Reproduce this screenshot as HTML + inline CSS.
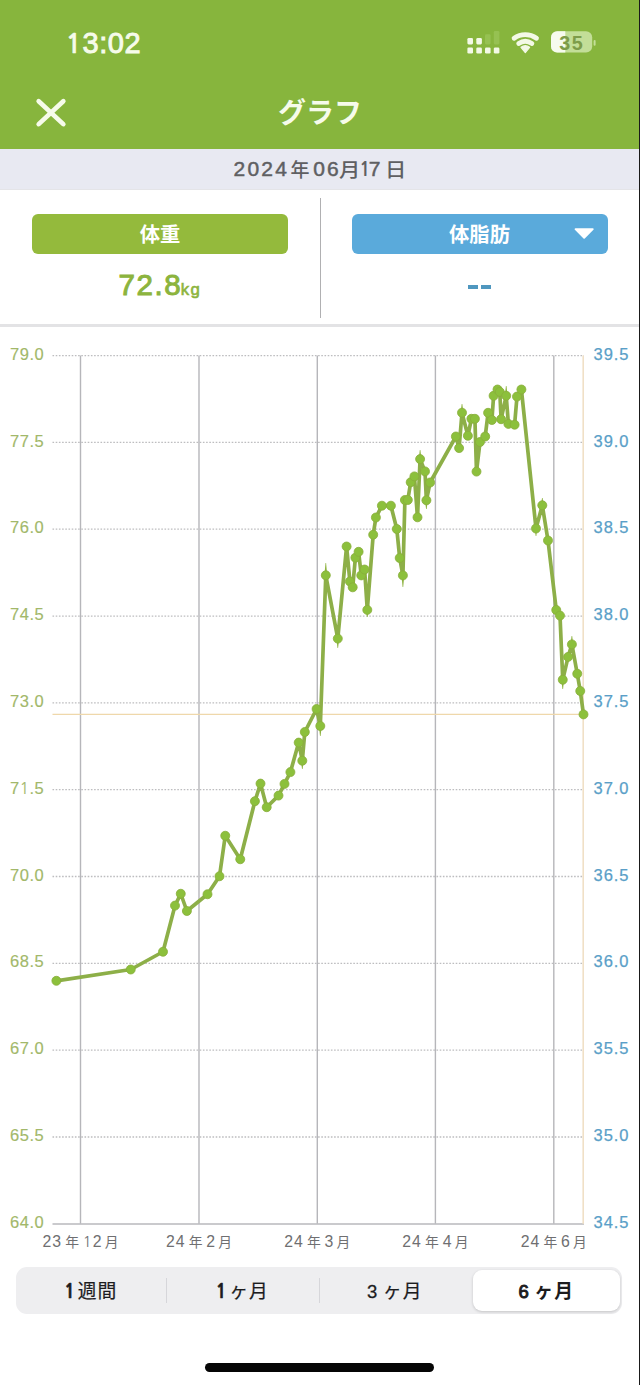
<!DOCTYPE html>
<html><head><meta charset="utf-8">
<style>
* { margin:0; padding:0; box-sizing:border-box; }
html,body { width:640px; height:1385px; overflow:hidden; background:#fff; }
body { position:relative; font-family:"Liberation Sans","Noto Sans CJK JP",sans-serif; }
.abs { position:absolute; }
#hdr { position:absolute; left:0; top:0; width:640px; height:149px; background:#87b53d; }
#time { position:absolute; left:65.6px; top:25.5px; font-size:29px; font-weight:normal; color:#f6fbea; -webkit-text-stroke:0.9px #f6fbea; letter-spacing:0.6px; line-height:34px; }
#title { position:absolute; left:0; width:640px; top:91px; text-align:center; font-size:28px; font-weight:bold; color:#f6fbea; font-family:"Noto Sans CJK JP",sans-serif; line-height:40px; }
#dateband { position:absolute; left:0; top:149px; width:640px; height:41px; background:#e8e9f2; border-bottom:1px solid #e4e4e8; }
.dt { position:absolute; top:155px; font-size:21px; line-height:28px; color:#5f5f62; -webkit-text-stroke:0.5px #5f5f62; letter-spacing:2.2px; white-space:nowrap; }
.dc { position:absolute; top:155px; font-size:19px; line-height:28px; color:#5f5f62; font-family:"Noto Sans CJK JP",sans-serif; font-weight:500; white-space:nowrap; }
.btn { position:absolute; top:214px; height:40px; width:256px; border-radius:6px; color:#fff; text-align:center; font-weight:bold; font-size:20.3px; line-height:38.6px; font-family:"Noto Sans CJK JP",sans-serif; }
#bw { left:32px; background:#94ba3c; }
#bf { left:351.5px; width:256px; background:#5aaadb; }
#divider { position:absolute; left:319.5px; top:198px; width:1.3px; height:120px; background:#b0b0b2; }
#panelline { position:absolute; left:0; top:324.4px; width:640px; height:2.2px; background:#e3e3e5; }
#val { position:absolute; left:118.5px; top:267px; font-size:29.5px; line-height:36px; color:#8cb43e; -webkit-text-stroke:1px #8cb43e; letter-spacing:1.6px; white-space:nowrap; }
#val span { font-size:16.8px; letter-spacing:1.4px; margin-left:-1.6px; -webkit-text-stroke:0.6px #8cb43e; }
.dash { position:absolute; top:285px; width:9.6px; height:3.7px; background:#4f97bf; }
#chart { position:absolute; left:0; top:325px; }
.yl { font-family:"Liberation Sans",sans-serif; font-size:16.5px; fill:#a2b86a; stroke:#a2b86a; stroke-width:0.15px; letter-spacing:0.5px; }
.yr { font-family:"Liberation Sans",sans-serif; font-size:16.5px; fill:#5a9fc8; stroke:#5a9fc8; stroke-width:0.25px; letter-spacing:0.9px; }
.xl { position:absolute; top:1228.5px; width:100px; text-align:center; font-size:15.8px; line-height:24px; color:#6f6f71; letter-spacing:1px; white-space:nowrap; font-family:"Liberation Sans",sans-serif; }
.xl .c1 { font-family:"Noto Sans CJK JP",sans-serif; font-size:13.8px; margin:0 3.8px 0 3.2px; letter-spacing:0; }
.xl .c2 { font-family:"Noto Sans CJK JP",sans-serif; font-size:13.8px; margin-left:2.2px; letter-spacing:0; }
#seg { position:absolute; left:16px; top:1267px; width:606px; height:46.5px; background:#eeeef0; border-radius:11px; }
.sep { position:absolute; top:1277.5px; width:1.3px; height:25px; background:#d6d6da; }
#sel { position:absolute; left:472.5px; top:1269.5px; width:147px; height:41.5px; background:#fff; border-radius:9px; box-shadow:0 1px 3px rgba(0,0,0,0.18); }
.sl { position:absolute; top:1276px; width:151.5px; text-align:center; font-size:18.5px; line-height:28px; color:#1c1c1e; font-family:"Liberation Sans",sans-serif; -webkit-text-stroke:0.3px #1c1c1e; white-space:nowrap; }
.sl .k { font-family:"Noto Sans CJK JP",sans-serif; font-size:18.8px; font-weight:400; -webkit-text-stroke:0.2px #1c1c1e; margin-left:5.5px; letter-spacing:1px; }
.sl .one + .k { margin-left:2.5px; }
.sl.on { -webkit-text-stroke:1px #1c1c1e; }
.sl.on .k { font-weight:bold; -webkit-text-stroke:0; }
.one { font-family:"NanumGothic","Liberation Sans",sans-serif; font-size:0.926em; }
#time .one, .sl.on .one { font-weight:bold; -webkit-text-stroke:0.4px #f6fbea; }
.dt .one { font-weight:bold; -webkit-text-stroke:0; }
.sl .one { font-weight:bold; font-size:1em; -webkit-text-stroke:0.6px #1c1c1e; }
#home { position:absolute; left:205px; top:1363px; width:229px; height:9px; border-radius:5px; background:#050505; }
#edge { position:absolute; left:639px; top:0; width:1px; height:1385px; background:#1a1a1a; }
</style></head><body>
<div id="hdr"></div>
<div id="time"><span class="one">1</span>3:02</div>
<svg class="abs" style="left:460px;top:25px" width="140" height="35" viewBox="460 25 140 35">
  <g fill="#f3f9e6">
    <rect x="467.4" y="38" width="5.6" height="6.4" rx="1.3"/><rect x="476.3" y="38" width="5.6" height="6.4" rx="1.3"/>
    <rect x="467.4" y="47.4" width="5.6" height="6.2" rx="1.3"/><rect x="476.3" y="47.4" width="5.6" height="6.2" rx="1.3"/>
    <rect x="485" y="47.4" width="5.6" height="6.2" rx="1.3"/><rect x="493.8" y="47.4" width="5.6" height="6.2" rx="1.3"/>
  </g>
  <g fill="#96c152"><rect x="485" y="34.2" width="5.6" height="10.2" rx="1.3"/><rect x="493.8" y="31" width="5.6" height="13.4" rx="1.3"/></g>
  <g fill="none" stroke="#f3f9e6" stroke-width="4.8" stroke-linecap="round">
    <path d="M514.1 38.3 A18.9 18.9 0 0 1 536.5 38.3"/>
    <path d="M518.7 43.4 A12.1 12.1 0 0 1 531.9 43.4"/>
  </g>
  <path d="M525.3 52.6 L521.0 47.3 A7.0 7.0 0 0 1 529.6 47.3 Z" fill="#f3f9e6" stroke="#f3f9e6" stroke-width="1.2" stroke-linejoin="round"/>
  <rect x="551" y="31.2" width="41.2" height="21.4" rx="6.2" fill="#c3de98"/>
  <path d="M557.2 31.2 H565.3 V52.6 H557.2 A6.2 6.2 0 0 1 551 46.4 V37.4 A6.2 6.2 0 0 1 557.2 31.2 Z" fill="#f6fbee"/>
  <rect x="593.6" y="40" width="2" height="5.8" rx="1" fill="#c3de98"/>
  <text x="571.8" y="49.8" text-anchor="middle" font-family="Liberation Sans" font-weight="bold" font-size="19.8" letter-spacing="1.6" fill="#7d9c4a">35</text>
</svg>
<svg class="abs" style="left:30px;top:92px" width="42" height="42" viewBox="30 92 42 42">
  <path d="M38.7 101.2 L63.3 124.1 M63.3 101.2 L38.7 124.1" stroke="#f6fbea" stroke-width="4.7" stroke-linecap="round"/>
</svg>
<div id="title">グラフ</div>
<div id="dateband"></div>
<div class="dt" style="left:233.5px">2024</div>
<div class="dc" style="left:290.5px">年</div>
<div class="dt" style="left:313.2px">06</div>
<div class="dc" style="left:339.4px;transform:scaleX(1.12);transform-origin:0 0">月</div>
<div class="dt" style="left:359px"><span class="one">1</span><span style="margin-left:-4.2px">7</span></div>
<div class="dc" style="left:384.8px;transform:scaleX(1.12);transform-origin:0 0">日</div>
<div class="btn" id="bw">体重</div>
<div class="btn" id="bf">体脂肪</div>
<svg class="abs" style="left:573px;top:227px" width="24" height="14" viewBox="0 0 24 14"><path d="M2.5 2.2 L19.8 2.2 L11.15 10.8 Z" fill="#fff" stroke="#fff" stroke-width="1.8" stroke-linejoin="round"/></svg>
<div id="divider"></div>
<div id="val">72.8<span>kg</span></div>
<div class="dash" style="left:468px"></div><div class="dash" style="left:481px"></div>
<div id="panelline"></div>
<svg id="chart" width="640" height="960" viewBox="0 325 640 960">
<line x1="52.5" y1="355.6" x2="584" y2="355.6" stroke="#bdbdbf" stroke-width="1.3" stroke-dasharray="1.6 1.6"/>
<line x1="52.5" y1="442.4" x2="584" y2="442.4" stroke="#bdbdbf" stroke-width="1.3" stroke-dasharray="1.6 1.6"/>
<line x1="52.5" y1="529.2" x2="584" y2="529.2" stroke="#bdbdbf" stroke-width="1.3" stroke-dasharray="1.6 1.6"/>
<line x1="52.5" y1="616.1" x2="584" y2="616.1" stroke="#bdbdbf" stroke-width="1.3" stroke-dasharray="1.6 1.6"/>
<line x1="52.5" y1="702.9" x2="584" y2="702.9" stroke="#bdbdbf" stroke-width="1.3" stroke-dasharray="1.6 1.6"/>
<line x1="52.5" y1="789.7" x2="584" y2="789.7" stroke="#bdbdbf" stroke-width="1.3" stroke-dasharray="1.6 1.6"/>
<line x1="52.5" y1="876.5" x2="584" y2="876.5" stroke="#bdbdbf" stroke-width="1.3" stroke-dasharray="1.6 1.6"/>
<line x1="52.5" y1="963.3" x2="584" y2="963.3" stroke="#bdbdbf" stroke-width="1.3" stroke-dasharray="1.6 1.6"/>
<line x1="52.5" y1="1050.2" x2="584" y2="1050.2" stroke="#bdbdbf" stroke-width="1.3" stroke-dasharray="1.6 1.6"/>
<line x1="52.5" y1="1137.0" x2="584" y2="1137.0" stroke="#bdbdbf" stroke-width="1.3" stroke-dasharray="1.6 1.6"/>
<line x1="80.5" y1="355.6" x2="80.5" y2="1223.8" stroke="#b6b6ba" stroke-width="1.4"/>
<line x1="199.0" y1="355.6" x2="199.0" y2="1223.8" stroke="#b6b6ba" stroke-width="1.4"/>
<line x1="317.3" y1="355.6" x2="317.3" y2="1223.8" stroke="#b6b6ba" stroke-width="1.4"/>
<line x1="435.4" y1="355.6" x2="435.4" y2="1223.8" stroke="#b6b6ba" stroke-width="1.4"/>
<line x1="553.8" y1="355.6" x2="553.8" y2="1223.8" stroke="#b6b6ba" stroke-width="1.4"/>
<line x1="52.5" y1="1223.9" x2="584" y2="1223.9" stroke="#b8b8bc" stroke-width="1.5"/>
<line x1="583.2" y1="355.6" x2="583.2" y2="1223.8" stroke="#f0e0c6" stroke-width="1.6"/>
<line x1="52.5" y1="714.4" x2="584" y2="714.4" stroke="#efd8ab" stroke-width="1.4"/>
<text x="44.2" y="359.7" class="yl" text-anchor="end">79.0</text>
<text x="44.2" y="446.5" class="yl" text-anchor="end">77.5</text>
<text x="44.2" y="533.3" class="yl" text-anchor="end">76.0</text>
<text x="44.2" y="620.2" class="yl" text-anchor="end">74.5</text>
<text x="44.2" y="707.0" class="yl" text-anchor="end">73.0</text>
<text x="44.2" y="793.8" class="yl" text-anchor="end">7<tspan style="font-family:NanumGothic,'Liberation Sans',sans-serif;font-size:15.3px">1</tspan>.5</text>
<text x="44.2" y="880.6" class="yl" text-anchor="end">70.0</text>
<text x="44.2" y="967.4" class="yl" text-anchor="end">68.5</text>
<text x="44.2" y="1054.3" class="yl" text-anchor="end">67.0</text>
<text x="44.2" y="1141.1" class="yl" text-anchor="end">65.5</text>
<text x="44.2" y="1227.9" class="yl" text-anchor="end">64.0</text>
<text x="593.6" y="359.7" class="yr">39.5</text>
<text x="593.6" y="446.5" class="yr">39.0</text>
<text x="593.6" y="533.3" class="yr">38.5</text>
<text x="593.6" y="620.2" class="yr">38.0</text>
<text x="593.6" y="707.0" class="yr">37.5</text>
<text x="593.6" y="793.8" class="yr">37.0</text>
<text x="593.6" y="880.6" class="yr">36.5</text>
<text x="593.6" y="967.4" class="yr">36.0</text>
<text x="593.6" y="1054.3" class="yr">35.5</text>
<text x="593.6" y="1141.1" class="yr">35.0</text>
<text x="593.6" y="1227.9" class="yr">34.5</text>
<path d="M56.4,980.8 L130.75,969.5 L163,951.75 L175,905.6 L180.75,893.75 L186.9,911.0 L207.5,894.25 L219.5,876.25 L225.25,835.75 L240.25,859.25 L254.9,801.2 L260.5,783.6 L266.7,807.2 L278.5,795.6 L284.5,783.9 L290.4,772.1 L298.7,742.6 L302.3,760.7 L304.8,732.0 L316.6,709.0 L320.3,726.0 L325.8,575.3 L337.8,638.6 L346.6,546.5 L349.9,581.5 L352.7,587.3 L355.4,557.7 L358.6,551.8 L361.25,575.4 L364.6,569.5 L367.3,609.9 L373.2,534.7 L375.9,517.5 L381.9,505.7 L390.9,505.7 L396.8,529.0 L399.7,558.0 L402.9,575.4 L404.9,500.0 L407.8,500.0 L410.7,482.2 L414.4,476.4 L417.5,517.3 L420.1,459.1 L425.0,471.4 L426.4,500.3 L430.1,482.5 L455.9,436.5 L459.1,448.1 L462.0,412.7 L467.9,435.8 L471.4,418.8 L474.9,418.8 L476.5,471.6 L480.0,442.0 L485.2,436.5 L488.1,412.8 L491.9,420 L493.6,395.8 L497.5,389.5 L499.8,391.9 L501.1,419.2 L506.2,395.8 L508.4,423.9 L514.6,424.7 L517.0,396.6 L521.4,389.5 L536,528.5 L542.3,505.3 L548,540.5 L556.25,610 L560,615.6 L562.75,679.75 L568.1,656.9 L571.9,644.4 L577.25,673.75 L580.25,691 L583.5,714.4" fill="none" stroke="#8daf48" stroke-width="3.7" stroke-linejoin="round" stroke-linecap="round"/>
<path d="M324.40,575.3 L327.20,575.3 L326.10,563 L325.50,563 Z" fill="#8db23f"/>
<path d="M336.40,638.6 L339.20,638.6 L338.10,648 L337.50,648 Z" fill="#8db23f"/>
<path d="M401.50,575.4 L404.30,575.4 L403.20,587 L402.60,587 Z" fill="#8db23f"/>
<path d="M418.70,459.1 L421.50,459.1 L420.40,450 L419.80,450 Z" fill="#8db23f"/>
<path d="M425.00,500.3 L427.80,500.3 L426.70,509 L426.10,509 Z" fill="#8db23f"/>
<path d="M460.60,412.7 L463.40,412.7 L462.30,404 L461.70,404 Z" fill="#8db23f"/>
<path d="M504.80,395.8 L507.60,395.8 L506.50,386 L505.90,386 Z" fill="#8db23f"/>
<path d="M318.90,726.0 L321.70,726.0 L320.60,736 L320.00,736 Z" fill="#8db23f"/>
<path d="M300.90,760.7 L303.70,760.7 L302.60,769 L302.00,769 Z" fill="#8db23f"/>
<path d="M534.60,528.5 L537.40,528.5 L536.30,536 L535.70,536 Z" fill="#8db23f"/>
<path d="M540.90,505.3 L543.70,505.3 L542.60,498 L542.00,498 Z" fill="#8db23f"/>
<path d="M561.35,679.75 L564.15,679.75 L563.05,689 L562.45,689 Z" fill="#8db23f"/>
<path d="M570.50,644.4 L573.30,644.4 L572.20,636 L571.60,636 Z" fill="#8db23f"/>
<path d="M365.90,609.9 L368.70,609.9 L367.60,617 L367.00,617 Z" fill="#8db23f"/>
<circle cx="56.4" cy="980.8" r="4.5" fill="#8cc03c" stroke="#89ad3b" stroke-width="0.8"/>
<circle cx="130.75" cy="969.5" r="4.5" fill="#8cc03c" stroke="#89ad3b" stroke-width="0.8"/>
<circle cx="163" cy="951.75" r="4.5" fill="#8cc03c" stroke="#89ad3b" stroke-width="0.8"/>
<circle cx="175" cy="905.6" r="4.5" fill="#8cc03c" stroke="#89ad3b" stroke-width="0.8"/>
<circle cx="180.75" cy="893.75" r="4.5" fill="#8cc03c" stroke="#89ad3b" stroke-width="0.8"/>
<circle cx="186.9" cy="911.0" r="4.5" fill="#8cc03c" stroke="#89ad3b" stroke-width="0.8"/>
<circle cx="207.5" cy="894.25" r="4.5" fill="#8cc03c" stroke="#89ad3b" stroke-width="0.8"/>
<circle cx="219.5" cy="876.25" r="4.5" fill="#8cc03c" stroke="#89ad3b" stroke-width="0.8"/>
<circle cx="225.25" cy="835.75" r="4.5" fill="#8cc03c" stroke="#89ad3b" stroke-width="0.8"/>
<circle cx="240.25" cy="859.25" r="4.5" fill="#8cc03c" stroke="#89ad3b" stroke-width="0.8"/>
<circle cx="254.9" cy="801.2" r="4.5" fill="#8cc03c" stroke="#89ad3b" stroke-width="0.8"/>
<circle cx="260.5" cy="783.6" r="4.5" fill="#8cc03c" stroke="#89ad3b" stroke-width="0.8"/>
<circle cx="266.7" cy="807.2" r="4.5" fill="#8cc03c" stroke="#89ad3b" stroke-width="0.8"/>
<circle cx="278.5" cy="795.6" r="4.5" fill="#8cc03c" stroke="#89ad3b" stroke-width="0.8"/>
<circle cx="284.5" cy="783.9" r="4.5" fill="#8cc03c" stroke="#89ad3b" stroke-width="0.8"/>
<circle cx="290.4" cy="772.1" r="4.5" fill="#8cc03c" stroke="#89ad3b" stroke-width="0.8"/>
<circle cx="298.7" cy="742.6" r="4.5" fill="#8cc03c" stroke="#89ad3b" stroke-width="0.8"/>
<circle cx="302.3" cy="760.7" r="4.5" fill="#8cc03c" stroke="#89ad3b" stroke-width="0.8"/>
<circle cx="304.8" cy="732.0" r="4.5" fill="#8cc03c" stroke="#89ad3b" stroke-width="0.8"/>
<circle cx="316.6" cy="709.0" r="4.5" fill="#8cc03c" stroke="#89ad3b" stroke-width="0.8"/>
<circle cx="320.3" cy="726.0" r="4.5" fill="#8cc03c" stroke="#89ad3b" stroke-width="0.8"/>
<circle cx="325.8" cy="575.3" r="4.5" fill="#8cc03c" stroke="#89ad3b" stroke-width="0.8"/>
<circle cx="337.8" cy="638.6" r="4.5" fill="#8cc03c" stroke="#89ad3b" stroke-width="0.8"/>
<circle cx="346.6" cy="546.5" r="4.5" fill="#8cc03c" stroke="#89ad3b" stroke-width="0.8"/>
<circle cx="349.9" cy="581.5" r="4.5" fill="#8cc03c" stroke="#89ad3b" stroke-width="0.8"/>
<circle cx="352.7" cy="587.3" r="4.5" fill="#8cc03c" stroke="#89ad3b" stroke-width="0.8"/>
<circle cx="355.4" cy="557.7" r="4.5" fill="#8cc03c" stroke="#89ad3b" stroke-width="0.8"/>
<circle cx="358.6" cy="551.8" r="4.5" fill="#8cc03c" stroke="#89ad3b" stroke-width="0.8"/>
<circle cx="361.25" cy="575.4" r="4.5" fill="#8cc03c" stroke="#89ad3b" stroke-width="0.8"/>
<circle cx="364.6" cy="569.5" r="4.5" fill="#8cc03c" stroke="#89ad3b" stroke-width="0.8"/>
<circle cx="367.3" cy="609.9" r="4.5" fill="#8cc03c" stroke="#89ad3b" stroke-width="0.8"/>
<circle cx="373.2" cy="534.7" r="4.5" fill="#8cc03c" stroke="#89ad3b" stroke-width="0.8"/>
<circle cx="375.9" cy="517.5" r="4.5" fill="#8cc03c" stroke="#89ad3b" stroke-width="0.8"/>
<circle cx="381.9" cy="505.7" r="4.5" fill="#8cc03c" stroke="#89ad3b" stroke-width="0.8"/>
<circle cx="390.9" cy="505.7" r="4.5" fill="#8cc03c" stroke="#89ad3b" stroke-width="0.8"/>
<circle cx="396.8" cy="529.0" r="4.5" fill="#8cc03c" stroke="#89ad3b" stroke-width="0.8"/>
<circle cx="399.7" cy="558.0" r="4.5" fill="#8cc03c" stroke="#89ad3b" stroke-width="0.8"/>
<circle cx="402.9" cy="575.4" r="4.5" fill="#8cc03c" stroke="#89ad3b" stroke-width="0.8"/>
<circle cx="404.9" cy="500.0" r="4.5" fill="#8cc03c" stroke="#89ad3b" stroke-width="0.8"/>
<circle cx="407.8" cy="500.0" r="4.5" fill="#8cc03c" stroke="#89ad3b" stroke-width="0.8"/>
<circle cx="410.7" cy="482.2" r="4.5" fill="#8cc03c" stroke="#89ad3b" stroke-width="0.8"/>
<circle cx="414.4" cy="476.4" r="4.5" fill="#8cc03c" stroke="#89ad3b" stroke-width="0.8"/>
<circle cx="417.5" cy="517.3" r="4.5" fill="#8cc03c" stroke="#89ad3b" stroke-width="0.8"/>
<circle cx="420.1" cy="459.1" r="4.5" fill="#8cc03c" stroke="#89ad3b" stroke-width="0.8"/>
<circle cx="425.0" cy="471.4" r="4.5" fill="#8cc03c" stroke="#89ad3b" stroke-width="0.8"/>
<circle cx="426.4" cy="500.3" r="4.5" fill="#8cc03c" stroke="#89ad3b" stroke-width="0.8"/>
<circle cx="430.1" cy="482.5" r="4.5" fill="#8cc03c" stroke="#89ad3b" stroke-width="0.8"/>
<circle cx="455.9" cy="436.5" r="4.5" fill="#8cc03c" stroke="#89ad3b" stroke-width="0.8"/>
<circle cx="459.1" cy="448.1" r="4.5" fill="#8cc03c" stroke="#89ad3b" stroke-width="0.8"/>
<circle cx="462.0" cy="412.7" r="4.5" fill="#8cc03c" stroke="#89ad3b" stroke-width="0.8"/>
<circle cx="467.9" cy="435.8" r="4.5" fill="#8cc03c" stroke="#89ad3b" stroke-width="0.8"/>
<circle cx="471.4" cy="418.8" r="4.5" fill="#8cc03c" stroke="#89ad3b" stroke-width="0.8"/>
<circle cx="474.9" cy="418.8" r="4.5" fill="#8cc03c" stroke="#89ad3b" stroke-width="0.8"/>
<circle cx="476.5" cy="471.6" r="4.5" fill="#8cc03c" stroke="#89ad3b" stroke-width="0.8"/>
<circle cx="480.0" cy="442.0" r="4.5" fill="#8cc03c" stroke="#89ad3b" stroke-width="0.8"/>
<circle cx="485.2" cy="436.5" r="4.5" fill="#8cc03c" stroke="#89ad3b" stroke-width="0.8"/>
<circle cx="488.1" cy="412.8" r="4.5" fill="#8cc03c" stroke="#89ad3b" stroke-width="0.8"/>
<circle cx="491.9" cy="420" r="4.5" fill="#8cc03c" stroke="#89ad3b" stroke-width="0.8"/>
<circle cx="493.6" cy="395.8" r="4.5" fill="#8cc03c" stroke="#89ad3b" stroke-width="0.8"/>
<circle cx="497.5" cy="389.5" r="4.5" fill="#8cc03c" stroke="#89ad3b" stroke-width="0.8"/>
<circle cx="499.8" cy="391.9" r="4.5" fill="#8cc03c" stroke="#89ad3b" stroke-width="0.8"/>
<circle cx="501.1" cy="419.2" r="4.5" fill="#8cc03c" stroke="#89ad3b" stroke-width="0.8"/>
<circle cx="506.2" cy="395.8" r="4.5" fill="#8cc03c" stroke="#89ad3b" stroke-width="0.8"/>
<circle cx="508.4" cy="423.9" r="4.5" fill="#8cc03c" stroke="#89ad3b" stroke-width="0.8"/>
<circle cx="514.6" cy="424.7" r="4.5" fill="#8cc03c" stroke="#89ad3b" stroke-width="0.8"/>
<circle cx="517.0" cy="396.6" r="4.5" fill="#8cc03c" stroke="#89ad3b" stroke-width="0.8"/>
<circle cx="521.4" cy="389.5" r="4.5" fill="#8cc03c" stroke="#89ad3b" stroke-width="0.8"/>
<circle cx="536" cy="528.5" r="4.5" fill="#8cc03c" stroke="#89ad3b" stroke-width="0.8"/>
<circle cx="542.3" cy="505.3" r="4.5" fill="#8cc03c" stroke="#89ad3b" stroke-width="0.8"/>
<circle cx="548" cy="540.5" r="4.5" fill="#8cc03c" stroke="#89ad3b" stroke-width="0.8"/>
<circle cx="556.25" cy="610" r="4.5" fill="#8cc03c" stroke="#89ad3b" stroke-width="0.8"/>
<circle cx="560" cy="615.6" r="4.5" fill="#8cc03c" stroke="#89ad3b" stroke-width="0.8"/>
<circle cx="562.75" cy="679.75" r="4.5" fill="#8cc03c" stroke="#89ad3b" stroke-width="0.8"/>
<circle cx="568.1" cy="656.9" r="4.5" fill="#8cc03c" stroke="#89ad3b" stroke-width="0.8"/>
<circle cx="571.9" cy="644.4" r="4.5" fill="#8cc03c" stroke="#89ad3b" stroke-width="0.8"/>
<circle cx="577.25" cy="673.75" r="4.5" fill="#8cc03c" stroke="#89ad3b" stroke-width="0.8"/>
<circle cx="580.25" cy="691" r="4.5" fill="#8cc03c" stroke="#89ad3b" stroke-width="0.8"/>
<circle cx="583.5" cy="714.4" r="4.5" fill="#8cc03c" stroke="#89ad3b" stroke-width="0.8"/>
</svg>
<div class="xl" style="left:30.5px">23<span class="c1">年</span><span class="one">1</span>2<span class="c2">月</span></div>
<div class="xl" style="left:149.0px">24<span class="c1">年</span>2<span class="c2">月</span></div>
<div class="xl" style="left:267.3px">24<span class="c1">年</span>3<span class="c2">月</span></div>
<div class="xl" style="left:385.4px">24<span class="c1">年</span>4<span class="c2">月</span></div>
<div class="xl" style="left:503.8px">24<span class="c1">年</span>6<span class="c2">月</span></div>
<div id="seg"></div>
<div class="sep" style="left:166px"></div>
<div class="sep" style="left:319px"></div>
<div id="sel"></div>
<div class="sl" style="left:15px"><span class="one">1</span><span class="k">週間</span></div>
<div class="sl" style="left:166.5px"><span class="one">1</span><span class="k">ヶ月</span></div>
<div class="sl" style="left:319px">3<span class="k">ヶ月</span></div>
<div class="sl on" style="left:470.5px">6<span class="k">ヶ月</span></div>
<div id="home"></div>
<div id="edge"></div>
</body></html>
